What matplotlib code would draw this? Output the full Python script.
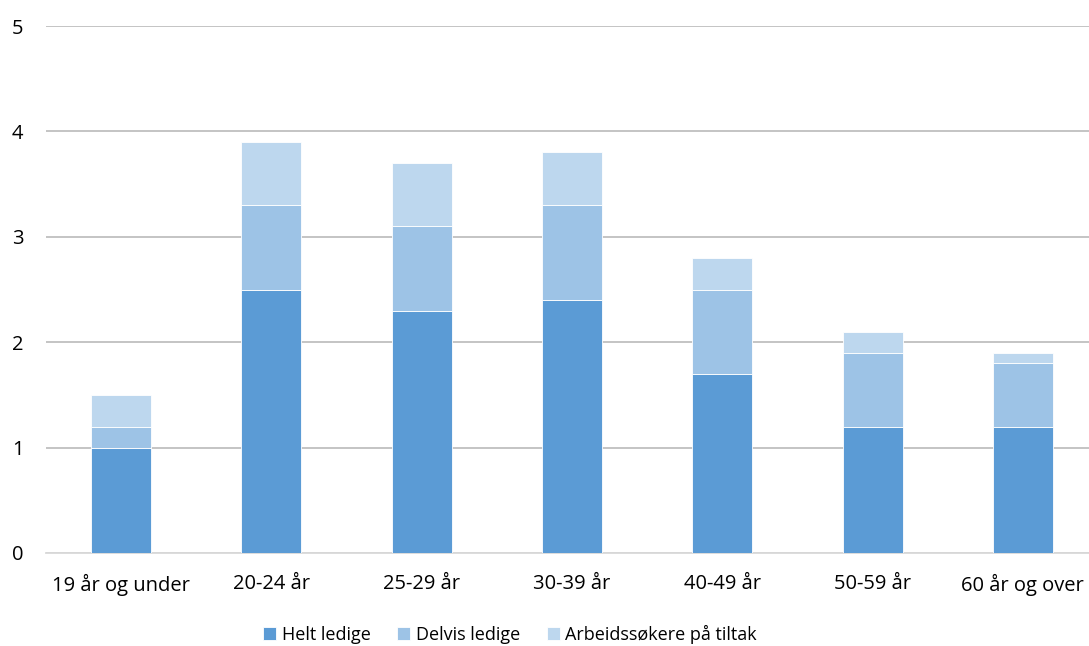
import matplotlib
matplotlib.use('Agg')
import matplotlib.pyplot as plt
import numpy as np

categories = ['19 år og under', '20-24 år', '25-29 år', '30-39 år', '40-49 år', '50-59 år', '60 år og over']
helt_ledige = [1.0, 2.5, 2.3, 2.4, 1.7, 1.2, 1.2]
delvis_ledige = [0.2, 0.8, 0.8, 0.9, 0.8, 0.7, 0.6]
tiltak = [0.3, 0.6, 0.6, 0.5, 0.3, 0.2, 0.1]
series_names = ['Helt ledige', 'Delvis ledige', 'Arbeidssøkere på tiltak']
colors = ['#5B9BD5', '#9DC3E6', '#BDD7EE']

plt.rcParams['font.family'] = ['Open Sans', 'DejaVu Sans']

fig = plt.figure(figsize=(10.89, 6.46), dpi=100)
ax = fig.add_axes([46 / 1089, 93 / 646, 1052 / 1089, 527 / 646])

x = np.arange(len(categories))
bottom = np.zeros(len(categories))
for name, vals, c in zip(series_names, [helt_ledige, delvis_ledige, tiltak], colors):
    ax.bar(x, vals, 0.4, bottom=bottom, color=c, label=name, edgecolor='white', linewidth=0.6, zorder=3)
    bottom += np.array(vals)

ax.set_xlim(-0.5, 6.5)
ax.set_ylim(0, 5)
ax.set_yticks(range(6))
ax.set_xticks(x)
ax.set_xticklabels(categories)
ax.grid(axis='y', color='#BFBFBF', linewidth=1.3, zorder=0)
ax.set_axisbelow(True)
for s in ['top', 'right', 'left']:
    ax.spines[s].set_visible(False)
ax.spines['bottom'].set_color('#D9D9D9')
ax.spines['bottom'].set_linewidth(1.3)
ax.tick_params(axis='both', length=0, labelsize=14.5, colors='black')
ax.tick_params(axis='y', pad=24.5)
ax.tick_params(axis='x', pad=15)
for lbl in ax.get_yticklabels():
    lbl.set_horizontalalignment('left')

fig.legend(loc='center', bbox_to_anchor=(510 / 1089, 1 - 634 / 646), ncol=3, frameon=False,
           fontsize=13, handlelength=0.7, handleheight=0.7, handletextpad=0.3, columnspacing=1.5)

fig.savefig('out.png', dpi=100)
